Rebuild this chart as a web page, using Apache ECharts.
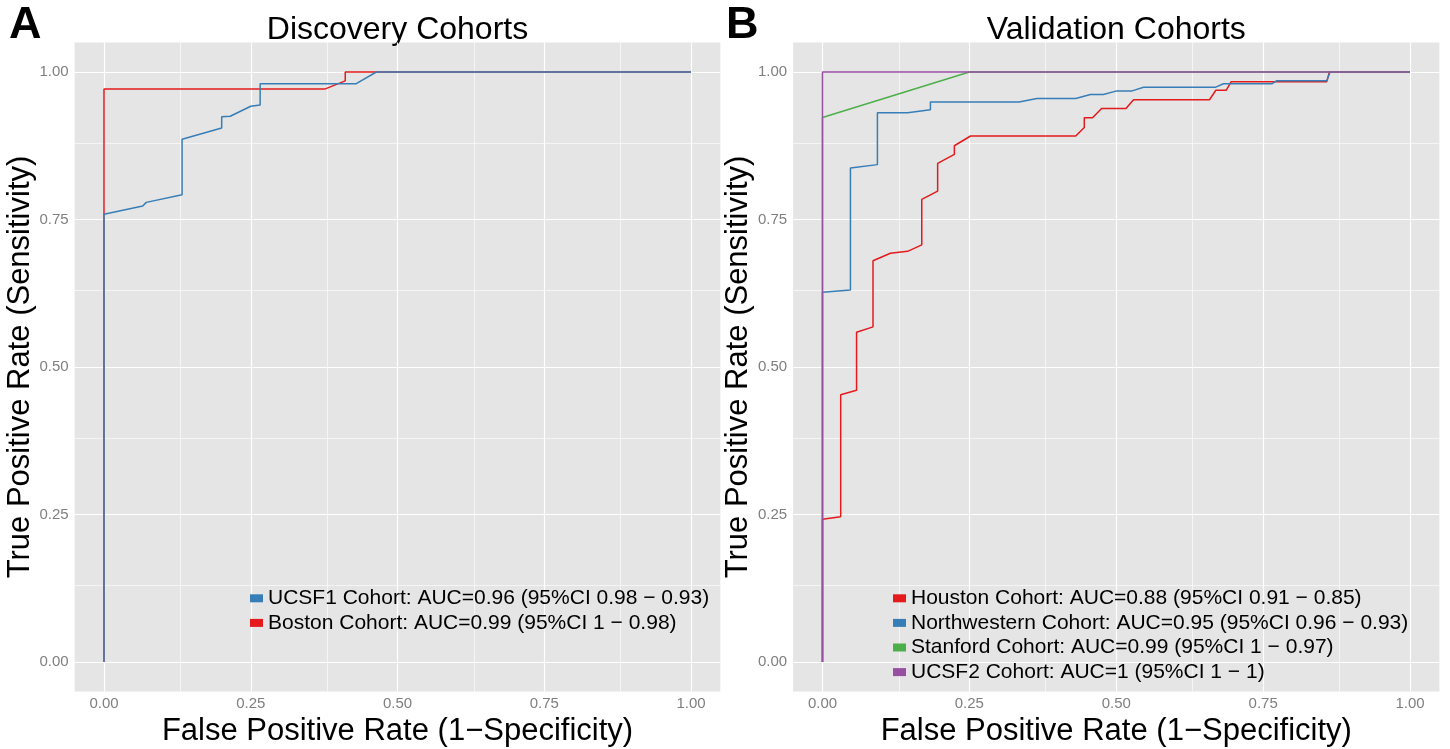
<!DOCTYPE html>
<html>
<head>
<meta charset="utf-8">
<script src="https://cdn.jsdelivr.net/npm/echarts@6/dist/echarts.min.js"></script>
<style>
html,body{margin:0;padding:0;background:#fff;}
#chart{width:1450px;height:749px;}
</style>
</head>
<body>
<div id="chart"></div>
<script>
// ---------- DATA ----------
const tickValues = [0, 0.25, 0.5, 0.75, 1.0];
const minorValues = [0.125, 0.375, 0.625, 0.875];

const panelTitles = ['Discovery Cohorts', 'Validation Cohorts'];
const panelLetters = ['A', 'B'];
const xAxisTitle = 'False Positive Rate (1\u2212Specificity)';
const yAxisTitle = 'True Positive Rate (Sensitivity)';

// Discovery cohorts
const ucsf1Name = 'UCSF1 Cohort: AUC=0.96 (95%CI 0.98 \u2212 0.93)';
const ucsf1FPR = [0, 0, 0.066, 0.072, 0.133, 0.133, 0.2005, 0.2005, 0.215, 0.250, 0.266, 0.266, 0.429, 0.464, 1];
const ucsf1TPR = [0, 0.759, 0.773, 0.779, 0.792, 0.886, 0.905, 0.924, 0.925, 0.942, 0.944, 0.980, 0.980, 1, 1];

const bostonName = 'Boston Cohort: AUC=0.99 (95%CI 1 \u2212 0.98)';
const bostonFPR = [0, 0, 0.376, 0.411, 0.411, 1];
const bostonTPR = [0, 0.971, 0.971, 0.985, 1, 1];

// Validation cohorts
const houstonName = 'Houston Cohort: AUC=0.88 (95%CI 0.91 \u2212 0.85)';
const houstonFPR = [0, 0, 0.031, 0.031, 0.058, 0.058, 0.086, 0.086, 0.1156, 0.1168, 0.145, 0.169, 0.169, 0.196, 0.196, 0.2245, 0.2245, 0.252, 0.431, 0.4456, 0.4456, 0.4597, 0.475, 0.5165, 0.5295, 0.6587, 0.6695, 0.687, 0.6956, 0.8583, 0.8628, 1];
const houstonTPR = [0, 0.242, 0.246, 0.453, 0.4605, 0.559, 0.568, 0.680, 0.6927, 0.696, 0.696, 0.707, 0.784, 0.798, 0.845, 0.8605, 0.875, 0.8915, 0.8915, 0.906, 0.9226, 0.9226, 0.938, 0.938, 0.953, 0.953, 0.969, 0.969, 0.9836, 0.9836, 1, 1];

const northwesternName = 'Northwestern Cohort: AUC=0.95 (95%CI 0.96 \u2212 0.93)';
const northwesternFPR = [0, 0, 0.0476, 0.0476, 0.0935, 0.0935, 0.145, 0.1837, 0.1837, 0.3345, 0.365, 0.431, 0.456, 0.478, 0.501, 0.527, 0.5465, 0.6684, 0.6825, 0.7648, 0.7733, 0.8583, 0.864, 1];
const northwesternTPR = [0, 0.6266, 0.6305, 0.8373, 0.843, 0.931, 0.931, 0.936, 0.949, 0.949, 0.955, 0.955, 0.962, 0.962, 0.968, 0.968, 0.974, 0.974, 0.980, 0.980, 0.9853, 0.9853, 1, 1];

const stanfordName = 'Stanford Cohort: AUC=0.99 (95%CI 1 \u2212 0.97)';
const stanfordFPR = [0, 0, 0.25, 1];
const stanfordTPR = [0, 0.923, 1, 1];

const ucsf2Name = 'UCSF2 Cohort: AUC=1 (95%CI 1 \u2212 1)';
const ucsf2FPR = [0, 0, 1];
const ucsf2TPR = [0, 1, 1];

const colRed = '#E41A1C', colBlue = '#377EB8', colGreen = '#4DAF4A', colPurple = '#984EA3';

// ---------- CHART ----------
const FONT = '"Liberation Sans", Arial, Helvetica, sans-serif';
const zip = (xs, ys) => xs.map((x, i) => [x, ys[i]]);

function gridSeries(idx) {
  const mk = (vals, w) => ({
    type: 'line', xAxisIndex: idx, yAxisIndex: idx, data: [], z: 1,
    silent: true, symbol: 'none',
    markLine: {
      z: 1, silent: true, symbol: ['none', 'none'], label: { show: false },
      animation: false,
      emphasis: { disabled: true },
      lineStyle: { color: '#ffffff', width: w, type: 'solid' },
      data: vals.map(v => ({ xAxis: v })).concat(vals.map(v => ({ yAxis: v })))
    }
  });
  return [mk(minorValues, 0.6), mk(tickValues, 1.2)];
}

function curve(name, xs, ys, color, idx) {
  return {
    name: name, type: 'line', xAxisIndex: idx, yAxisIndex: idx,
    data: zip(xs, ys), symbol: 'none', showSymbol: false, z: 3,
    color: color,
    itemStyle: { color: color },
    lineStyle: { color: color, width: 1.5 },
    emphasis: { disabled: true }
  };
}

function xAx(idx) {
  return {
    gridIndex: idx, type: 'value', min: -0.05, max: 1.05,
    axisLine: { show: false },
    axisTick: { show: true, customValues: tickValues, length: 4, lineStyle: { color: '#7f7f7f', width: 1 } },
    axisLabel: { customValues: tickValues, formatter: v => v.toFixed(2), color: '#7f7f7f', fontSize: 15, fontFamily: FONT, margin: 5 },
    splitLine: { show: false },
    name: xAxisTitle, nameLocation: 'middle', nameGap: 22,
    nameTextStyle: { fontSize: 31, color: '#000', fontFamily: FONT }
  };
}
function yAx(idx) {
  return {
    gridIndex: idx, type: 'value', min: -0.05, max: 1.05,
    axisLine: { show: false },
    axisTick: { show: true, customValues: tickValues, length: 4, lineStyle: { color: '#7f7f7f', width: 1 } },
    axisLabel: { customValues: tickValues, formatter: v => v.toFixed(2), color: '#7f7f7f', fontSize: 15, fontFamily: FONT, margin: 6 },
    splitLine: { show: false },
    name: yAxisTitle, nameLocation: 'middle', nameGap: 35,
    nameTextStyle: { fontSize: 31, color: '#000', fontFamily: FONT }
  };
}

const legendBase = {
  orient: 'vertical', icon: 'rect', itemWidth: 13, itemHeight: 8, itemGap: 0, padding: 0,
  selectedMode: false, z: 6,
  itemStyle: { borderWidth: 0 },
  textStyle: { fontSize: 21, color: '#000', fontFamily: FONT, lineHeight: 24.6 }
};

const option = {
  animation: false,
  backgroundColor: '#ffffff',
  grid: [
    { left: 74.65, top: 42.5, width: 645.7, height: 649, show: true, backgroundColor: '#E5E5E5', borderWidth: 0, containLabel: false, outerBoundsMode: 'none' },
    { left: 793.1, top: 42.5, width: 646.3, height: 649, show: true, backgroundColor: '#E5E5E5', borderWidth: 0, containLabel: false, outerBoundsMode: 'none' }
  ],
  xAxis: [xAx(0), xAx(1)],
  yAxis: [yAx(0), yAx(1)],
  legend: [
    Object.assign({}, legendBase, { left: 250, top: 586, data: [ucsf1Name, bostonName] }),
    Object.assign({}, legendBase, { left: 893, top: 586, data: [houstonName, northwesternName, stanfordName, ucsf2Name] })
  ],
  graphic: [
    { type: 'text', x: 397.5, y: 30, style: { text: panelTitles[0], font: '32px ' + FONT, fill: '#000', align: 'center', verticalAlign: 'middle' } },
    { type: 'text', x: 1116.3, y: 30, style: { text: panelTitles[1], font: '32px ' + FONT, fill: '#000', align: 'center', verticalAlign: 'middle' } },
    { type: 'text', x: 9, y: 25.5, style: { text: panelLetters[0], font: 'bold 45px ' + FONT, fill: '#000', align: 'left', verticalAlign: 'middle' } },
    { type: 'text', x: 726, y: 25.5, style: { text: panelLetters[1], font: 'bold 45px ' + FONT, fill: '#000', align: 'left', verticalAlign: 'middle' } }
  ],
  series: [].concat(
    gridSeries(0), gridSeries(1),
    [
      curve(bostonName, bostonFPR, bostonTPR, colRed, 0),
      curve(ucsf1Name, ucsf1FPR, ucsf1TPR, colBlue, 0),
      curve(houstonName, houstonFPR, houstonTPR, colRed, 1),
      curve(northwesternName, northwesternFPR, northwesternTPR, colBlue, 1),
      curve(stanfordName, stanfordFPR, stanfordTPR, colGreen, 1),
      curve(ucsf2Name, ucsf2FPR, ucsf2TPR, colPurple, 1)
    ]
  )
};

const chart = echarts.init(document.getElementById('chart'), null, { renderer: 'canvas' });
chart.setOption(option);
</script>
</body>
</html>
